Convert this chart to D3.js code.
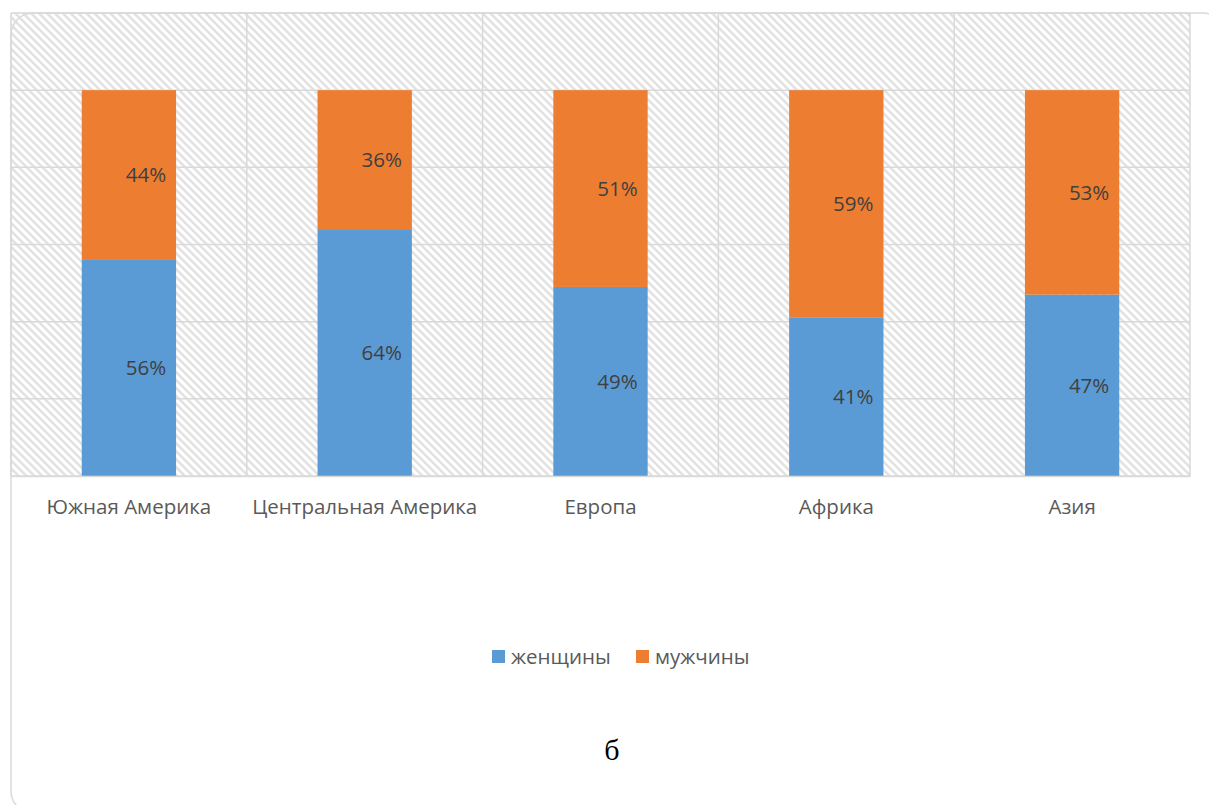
<!DOCTYPE html>
<html>
<head>
<meta charset="utf-8">
<script src="https://cdn.jsdelivr.net/npm/d3@7"></script>
<style>
  html, body { margin: 0; padding: 0; background: #fff; }
  svg { display: block; }
</style>
</head>
<body>
<svg id="chart" width="1209" height="805"></svg>
<script>
// Regions and the share of women / men in each
const categories = ["Южная Америка", "Центральная Америка", "Европа", "Африка", "Азия"];
const women = [0.56, 0.64, 0.49, 0.41, 0.47];
const men = [0.44, 0.36, 0.51, 0.59, 0.53];
const seriesNames = ["женщины", "мужчины"];
const seriesColors = ["#5b9bd5", "#ed7d31"];
const yTicks = [0, 0.2, 0.4, 0.6, 0.8, 1.0, 1.2];
const caption = "б";

const svg = d3.select("#chart");
const plot = { left: 11, right: 1190, top: 13, bottom: 476 };

const x = d3.scaleBand().domain(categories).range([plot.left, plot.right]).paddingInner(0).paddingOuter(0);
const y = d3.scaleLinear().domain([0, 1.2]).range([plot.bottom, plot.top]);

// Diagonal hatch fill for the plot area
const defs = svg.append("defs");
defs.append("pattern")
  .attr("id", "hatch")
  .attr("patternUnits", "userSpaceOnUse")
  .attr("width", 5.6).attr("height", 5.6)
  .attr("patternTransform", "rotate(-45)")
  .append("line")
  .attr("x1", 1.4).attr("y1", 0).attr("x2", 1.4).attr("y2", 5.6)
  .attr("stroke", "#dddddd").attr("stroke-width", 2.2);

// Outer chart frame
svg.append("rect")
  .attr("x", 11).attr("y", 13).attr("width", 1214).attr("height", 800)
  .attr("rx", 22).attr("ry", 22)
  .attr("fill", "none").attr("stroke", "#d9d9d9").attr("stroke-width", 1.5);

svg.append("rect")
  .attr("x", plot.left).attr("y", plot.top)
  .attr("width", plot.right - plot.left).attr("height", plot.bottom - plot.top)
  .attr("fill", "url(#hatch)");

// Horizontal gridlines
svg.append("g").selectAll("line").data(yTicks).join("line")
  .attr("x1", plot.left).attr("x2", plot.right)
  .attr("y1", d => y(d)).attr("y2", d => y(d))
  .attr("stroke", "#d9d9d9").attr("stroke-width", 1.5);

// Vertical gridlines at category boundaries
const bounds = categories.map(c => x(c)).concat([x(categories[categories.length - 1]) + x.bandwidth()]);
svg.append("g").selectAll("line").data(bounds).join("line")
  .attr("x1", d => d).attr("x2", d => d)
  .attr("y1", plot.top).attr("y2", plot.bottom)
  .attr("stroke", "#d9d9d9").attr("stroke-width", 1.5);

// Stacked bars
const rows = categories.map((c, i) => ({ cat: c, women: women[i], men: men[i] }));
const stack = d3.stack().keys(["women", "men"])(rows);
const barW = x.bandwidth() * 0.4;
const fontStack = "'Open Sans', 'Noto Sans', sans-serif";

stack.forEach((layer, li) => {
  const g = svg.append("g");
  g.selectAll("rect").data(layer).join("rect")
    .attr("x", d => x(d.data.cat) + (x.bandwidth() - barW) / 2)
    .attr("width", barW)
    .attr("y", d => y(d[1]))
    .attr("height", d => y(d[0]) - y(d[1]))
    .attr("fill", seriesColors[li]);
  g.selectAll("text").data(layer).join("text")
    .attr("x", d => x(d.data.cat) + x.bandwidth() / 2 + 17)
    .attr("y", d => (y(d[0]) + y(d[1])) / 2)
    .attr("dy", "0.36em")
    .attr("text-anchor", "middle")
    .attr("font-family", fontStack)
    .attr("font-size", 20.5)
    .attr("fill", "#404040")
    .text(d => Math.round((d[1] - d[0]) * 100) + "%");
});

// Category axis
const xAxis = svg.append("g")
  .attr("transform", `translate(0,${plot.bottom})`)
  .call(d3.axisBottom(x).tickSize(0).tickPadding(23));
xAxis.select(".domain").attr("stroke", "#d9d9d9").attr("stroke-width", 1.5);
xAxis.selectAll("text")
  .attr("font-family", fontStack)
  .attr("font-size", 20.5)
  .attr("fill", "#595959");

// Legend
const legend = svg.append("g").attr("transform", "translate(492,657)");
const legendX = [0, 144];
seriesNames.forEach((name, i) => {
  const item = legend.append("g").attr("transform", `translate(${legendX[i]},0)`);
  item.append("rect").attr("x", 0).attr("y", -7).attr("width", 13).attr("height", 13)
    .attr("fill", seriesColors[i]);
  item.append("text").attr("x", 19).attr("y", 0).attr("dy", "0.36em")
    .attr("font-family", fontStack).attr("font-size", 20.5).attr("fill", "#595959")
    .text(name);
});

// Caption below the chart
svg.append("text")
  .attr("x", 612).attr("y", 760)
  .attr("text-anchor", "middle")
  .attr("font-family", "'Liberation Serif', 'DejaVu Serif', serif")
  .attr("font-size", 30)
  .attr("fill", "#000")
  .text(caption);
</script>
</body>
</html>
